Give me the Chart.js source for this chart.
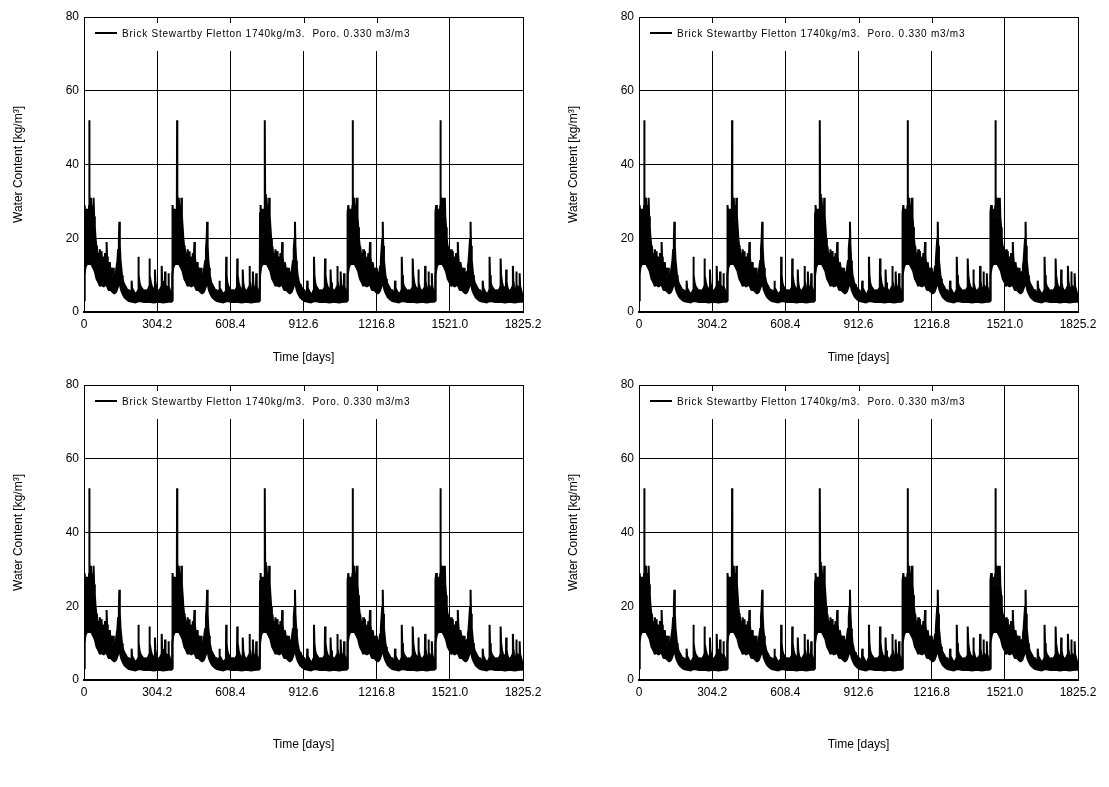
<!DOCTYPE html>
<html>
<head>
<meta charset="utf-8">
<script src="https://cdn.jsdelivr.net/npm/chart.js@4.4.1/dist/chart.umd.min.js"></script>
<style>
  html, body { margin: 0; padding: 0; background: #fff; }
  body { width: 1109px; height: 787px; position: relative; overflow: hidden; }
  .panel { position: absolute; width: 555px; }
</style>
</head>
<body>
<div class="panel" style="left:0;top:0;height:370px"><canvas id="c1"></canvas></div>
<div class="panel" style="left:555px;top:0;height:370px"><canvas id="c2"></canvas></div>
<div class="panel" style="left:0;top:368px;height:400px"><canvas id="c3"></canvas></div>
<div class="panel" style="left:555px;top:368px;height:400px"><canvas id="c4"></canvas></div>
<script>
// one year of the simulated profile (the five years repeat)
const YEAR_LENGTH = 365.04;
const N_YEARS = 5;

// upper edge of the black band (day within year, kg/m3)
const UPPER_DAYS = [0, 1, 2, 4, 7, 10, 13, 16, 19, 21, 22, 23, 26, 29, 32, 35, 38, 40, 42, 45,
  48, 51, 54, 57, 60, 63, 66, 69, 72, 73, 75, 78, 81, 84, 87, 90, 92, 94, 96, 99,
  102, 105, 108, 111, 114, 117, 120, 122, 124, 127, 130, 133, 136, 139, 142, 145, 147, 149, 152, 155,
  158, 161, 164, 168, 172, 176, 180, 185, 190, 195, 197, 198, 200, 204, 208, 213, 218, 222, 225, 226,
  228, 231, 235, 240, 245, 250, 255, 260, 265, 269, 271, 272, 274, 278, 282, 286, 290, 294, 295, 297,
  301, 305, 310, 315, 319, 322, 323, 325, 328, 332, 336, 337, 339, 343, 347, 350, 351, 353, 357, 361, 364, 365];
const UPPER_VALUES = [3, 3, 27, 29, 26, 28, 25, 28, 26, 29, 52, 32, 27, 31, 26, 29, 25, 31, 26, 23,
  20, 18, 17.5, 15, 16, 13.5, 17, 13, 14, 16.5, 13, 12.5, 15, 13, 16, 14, 15, 19, 15, 13,
  12, 13.5, 12, 11, 12, 10.5, 10, 12, 10, 9, 10.5, 11, 12.5, 14, 17, 20, 24.5, 18, 14, 12,
  10, 9, 8, 7.5, 7, 6.5, 6, 6, 5.5, 5.5, 6, 8.5, 6.5, 6, 5.5, 5, 5, 5.5, 6, 15,
  10, 8, 7, 6.5, 6, 5.5, 6, 5.5, 6, 6.5, 7, 14.5, 10, 8, 7, 6.5, 6, 6.5, 11.5, 8,
  6.5, 6, 5.5, 6, 6.5, 7, 12.5, 8.5, 7, 6, 6.5, 11, 7.5, 6.5, 6.5, 7, 10.5, 7, 6, 5, 4.5, 3];

// lower edge of the band
const LOWER_DAYS = [0, 1, 2, 6, 12, 20, 30, 38, 45, 52, 60, 66, 72, 78, 84, 90, 96, 102,
  110, 118, 126, 134, 142, 148, 154, 160, 168, 176, 186, 200, 215, 230, 250, 270, 290, 310, 330, 350, 362, 365];
const LOWER_VALUES = [3, 3, 10, 12, 13, 13, 13, 12, 11, 9, 8, 7, 7.5, 7, 7, 7.5, 7, 6,
  6, 5.5, 5, 5.5, 7, 8, 6, 5, 4, 3.5, 3, 2.8, 2.6, 3, 2.7, 2.8, 2.6, 2.8, 2.6, 2.8, 2.8, 3];

const X_TICKS = [0, 304.2, 608.4, 912.6, 1216.8, 1521.0, 1825.2];
const X_TICK_LABELS = ['0', '304.2', '608.4', '912.6', '1216.8', '1521.0', '1825.2'];
const Y_TICKS = [0, 20, 40, 60, 80];
const SERIES_LABEL = 'Brick Stewartby Fletton 1740kg/m3.  Poro. 0.330 m3/m3';
const X_TITLE = 'Time [days]';
const Y_TITLE = 'Water Content [kg/m³]';

const FONT = '"Liberation Sans", Arial, sans-serif';

function buildSeries(days, values) {
  const pts = [];
  for (let k = 0; k < N_YEARS; k++) {
    days.forEach((d, i) => pts.push({ x: k * YEAR_LENGTH + d, y: values[i] }));
  }
  return pts;
}

// white legend box in the top-left of the plot, with the short top ticks it leaves visible
const legendBox = {
  id: 'legendBox',
  beforeDatasetsDraw(chart) {
    const { ctx, chartArea: a, scales: { x } } = chart;
    const boxW = 355;
    ctx.save();
    ctx.fillStyle = '#fff';
    ctx.fillRect(a.left + 1, a.top + 1, boxW, 33);
    ctx.strokeStyle = '#000';
    ctx.lineWidth = 1;
    X_TICKS.forEach(t => {
      const px = x.getPixelForValue(t);
      if (px <= a.left + 2 || px >= a.left + boxW) return;
      const cx = Math.round(px) + 0.5;
      ctx.beginPath();
      ctx.moveTo(cx, a.top);
      ctx.lineTo(cx, a.top + 6);
      ctx.stroke();
    });
    ctx.lineWidth = 2;
    ctx.beginPath();
    ctx.moveTo(a.left + 11, a.top + 16);
    ctx.lineTo(a.left + 33, a.top + 16);
    ctx.stroke();
    ctx.fillStyle = '#000';
    ctx.font = '10px ' + FONT;
    ctx.letterSpacing = '0.75px';
    ctx.textBaseline = 'middle';
    ctx.fillText(SERIES_LABEL, a.left + 38, a.top + 17);
    ctx.restore();
  }
};

function makeChart(id, xScaleH, xTitlePad) {
  return new Chart(document.getElementById(id), {
    type: 'line',
    data: {
      datasets: [{
        label: SERIES_LABEL,
        data: buildSeries(UPPER_DAYS, UPPER_VALUES),
        borderColor: '#000',
        borderWidth: 2,
        borderJoinStyle: 'bevel',
        pointRadius: 0,
        fill: false,
        tension: 0
      }, {
        label: 'lower',
        data: buildSeries(LOWER_DAYS, LOWER_VALUES),
        borderColor: '#000',
        backgroundColor: '#000',
        borderWidth: 2,
        borderJoinStyle: 'bevel',
        pointRadius: 0,
        fill: '-1',
        tension: 0
      }]
    },
    options: {
      responsive: true,
      maintainAspectRatio: false,
      animation: false,
      events: [],
      layout: { padding: { top: 17, right: 32, bottom: 0, left: 0 } },
      plugins: { legend: { display: false }, tooltip: { enabled: false } },
      scales: {
        x: {
          type: 'linear',
          min: 0,
          max: 1825.2,
          afterBuildTicks: s => { s.ticks = X_TICKS.map(v => ({ value: v })); },
          afterFit: s => { s.height = xScaleH; },
          ticks: {
            autoSkip: false,
            maxRotation: 0,
            padding: 5,
            color: '#000',
            font: { family: FONT, size: 12 },
            callback: (v, i) => X_TICK_LABELS[i]
          },
          grid: { color: '#000', lineWidth: 1, drawTicks: false },
          border: { color: '#000', width: 2 },
          title: {
            display: true,
            text: X_TITLE,
            color: '#000',
            padding: { top: 0, bottom: xTitlePad },
            font: { family: FONT, size: 12 }
          }
        },
        y: {
          min: 0,
          max: 80,
          afterBuildTicks: s => { s.ticks = Y_TICKS.map(v => ({ value: v })); },
          afterFit: s => { s.width = 84; },
          ticks: {
            padding: 5,
            color: '#000',
            font: { family: FONT, size: 12 }
          },
          grid: { color: '#000', lineWidth: 1, drawTicks: false },
          border: { color: '#000', width: 1 },
          title: {
            display: true,
            text: Y_TITLE,
            color: '#000',
            padding: { top: 11, bottom: 0 },
            font: { family: FONT, size: 12 }
          }
        }
      }
    },
    plugins: [legendBox]
  });
}

makeChart('c1', 58, 5);
makeChart('c2', 58, 5);
makeChart('c3', 88, 16);
makeChart('c4', 88, 16);
</script>
</body>
</html>
